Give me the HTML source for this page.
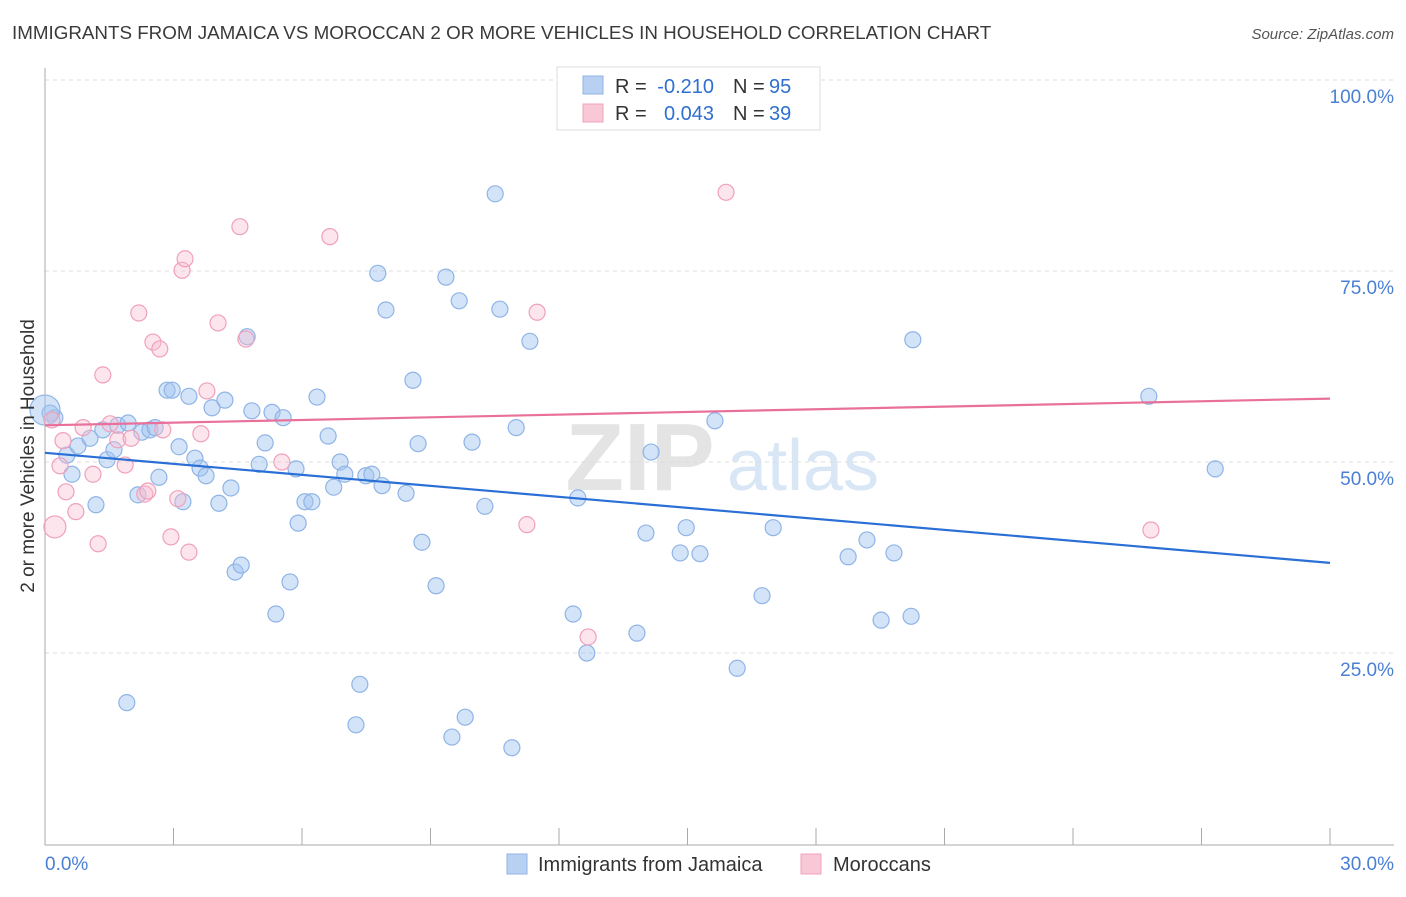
<!DOCTYPE html>
<html><head><meta charset="utf-8">
<style>
body{margin:0;background:#fff;font-family:"Liberation Sans",sans-serif;}
svg text{font-family:"Liberation Sans",sans-serif;}
</style></head>
<body>
<svg width="1406" height="892" xmlns="http://www.w3.org/2000/svg">
<text x="12" y="39" font-size="18.8" fill="#3a3a3a">IMMIGRANTS FROM JAMAICA VS MOROCCAN 2 OR MORE VEHICLES IN HOUSEHOLD CORRELATION CHART</text>
<text x="1394" y="39" font-size="15" font-style="italic" fill="#555" text-anchor="end">Source: ZipAtlas.com</text>
<text x="640" y="490" font-size="96" font-family="Liberation Serif" fill="#e4e4e4" text-anchor="middle" font-weight="bold">ZIP</text>
<text x="803" y="490" font-size="72" fill="#d8e6f5" text-anchor="middle">atlas</text>
<g id="grid"></g>
<g id="axes"></g>
<g id="pts"></g>
<g id="trends"></g>
<text transform="translate(34,456) rotate(-90)" font-size="19" fill="#333" text-anchor="middle">2 or more Vehicles in Household</text>
<text x="45" y="870" font-size="19" fill="#4a7fd4">0.0%</text>
<text x="1394" y="870" font-size="19" fill="#4a7fd4" text-anchor="end">30.0%</text>
<g>
<rect x="557" y="67" width="263" height="63" fill="#fff" stroke="#ddd"/>
<rect x="583" y="76" width="20" height="18" fill="#b8d1f2" stroke="#8fb4e6"/>
<rect x="583" y="104" width="20" height="18" fill="#f9c8d7" stroke="#f0a0bc"/>
<text x="615" y="93" font-size="20" fill="#333">R =</text>
<text x="714" y="93" font-size="20" fill="#2f6fd0" text-anchor="end">-0.210</text>
<text x="733" y="93" font-size="20" fill="#333">N =</text>
<text x="769" y="93" font-size="20" fill="#2f6fd0">95</text>
<text x="615" y="120" font-size="20" fill="#333">R =</text>
<text x="714" y="120" font-size="20" fill="#2f6fd0" text-anchor="end">0.043</text>
<text x="733" y="120" font-size="20" fill="#333">N =</text>
<text x="769" y="120" font-size="20" fill="#2f6fd0">39</text>
</g>
<g>
<rect x="507" y="854" width="20" height="20" fill="#b8d1f2" stroke="#8fb4e6"/>
<text x="538" y="871" font-size="20" fill="#333">Immigrants from Jamaica</text>
<rect x="801" y="854" width="20" height="20" fill="#f9c8d7" stroke="#f0a0bc"/>
<text x="833" y="871" font-size="20" fill="#333">Moroccans</text>
</g>
</svg>
<script>
const yTicks=[25,50,75,100];
const xTicks=[0,3,6,9,12,15,18,21,24,27,30];
const jamX=[0.23,0.12,0,0.63,0.51,0.77,1.05,1.19,1.35,1.45,1.61,1.70,1.94,1.91,2.17,2.26,2.45,2.57,2.66,2.85,2.97,3.13,3.22,3.36,3.50,3.62,3.76,3.90,4.06,4.20,4.34,4.44,4.58,4.72,4.83,5.00,5.14,5.30,5.39,5.56,5.72,5.86,5.91,6.07,6.23,6.35,6.61,6.74,6.89,7.00,7.26,7.35,7.49,7.63,7.77,7.87,7.96,8.43,8.59,8.71,8.80,9.13,9.36,9.50,9.67,9.81,9.97,10.27,10.51,10.62,10.90,11.00,11.32,12.33,12.44,12.65,13.82,14.03,14.15,14.83,14.97,15.29,15.64,16.16,16.74,17.00,18.75,19.19,19.52,19.82,20.22,20.26,25.77,27.32];
const jamY=[55.8,56.4,56.8,48.4,50.9,52.1,53.1,44.4,54.2,50.3,51.6,54.8,55.1,18.5,45.7,53.9,54.2,54.5,48.0,59.4,59.4,52.0,44.8,58.6,50.5,49.2,48.2,57.1,44.6,58.1,46.6,35.6,36.5,66.4,56.7,49.7,52.5,56.5,30.1,55.8,34.3,49.1,42.0,44.8,44.8,58.5,53.4,46.7,50.0,48.4,15.6,20.9,48.2,48.4,74.7,46.9,69.9,45.9,60.7,52.4,39.5,33.8,74.2,14.0,71.1,16.6,52.6,44.2,85.1,70.0,12.6,54.5,65.8,30.1,45.3,25.0,27.6,40.7,51.3,38.1,41.4,38.0,55.4,23.0,32.5,41.4,37.6,39.8,29.3,38.1,29.8,66.0,58.6,49.1];
const jamBig=[2];
const morX=[0.23,0.16,0.35,0.42,0.49,0.72,0.89,1.12,1.24,1.35,1.52,1.70,1.87,2.01,2.19,2.33,2.40,2.52,2.68,2.75,2.94,3.10,3.20,3.27,3.36,3.64,3.78,4.04,4.55,4.69,5.53,6.65,11.25,11.49,12.68,15.90,25.82];
const morY=[41.5,55.5,49.5,52.8,46.1,43.5,54.5,48.4,39.3,61.4,55.0,52.9,49.6,53.1,69.5,45.8,46.2,65.7,64.8,54.2,40.2,45.2,75.1,76.6,38.2,53.7,59.3,68.2,80.8,66.1,50.0,79.5,41.8,69.6,27.1,85.3,41.1];
const morBig=[0];
const jamTrend=[51.2,36.8];
const morTrend=[54.8,58.3];
const NS="http://www.w3.org/2000/svg";
const sx=v=>45+v/30*1285;
const sy=v=>844-v/100*764;
function mk(tag,parent,attrs){const e=document.createElementNS(NS,tag);for(const k in attrs)e.setAttribute(k,attrs[k]);parent.appendChild(e);return e;}
const grid=document.getElementById('grid'),axes=document.getElementById('axes'),pts=document.getElementById('pts'),tr=document.getElementById('trends');
yTicks.forEach(t=>{
 const l=mk('line',grid,{x1:45,x2:1394,y1:sy(t),y2:sy(t),stroke:'#ddd','stroke-dasharray':'4,4'});
 
 
 const tx=mk('text',grid,{x:1394,y:sy(t)+23,'font-size':19,fill:'#4a7fd4','text-anchor':'end'});
 tx.textContent=t.toFixed(1)+'%';
 
 
});
const ya=mk('line',axes,{x1:45,x2:45,y1:68,y2:845,stroke:'#aaa'});


const xa=mk('line',axes,{x1:45,x2:1394,y1:845,y2:845,stroke:'#aaa'});


xTicks.forEach(t=>{
 const l=mk('line',axes,{x1:sx(t),x2:sx(t),y1:828,y2:845,stroke:'#aaa'});
 
 
});
jamX.forEach((x,i)=>{
 const c=mk('circle',pts,{cx:sx(x),cy:sy(jamY[i]),r:jamBig.includes(i)?15:8,fill:'rgba(160,196,240,0.45)',stroke:'#8fb4e6','stroke-width':1.2});
 
 
});
morX.forEach((x,i)=>{
 const c=mk('circle',pts,{cx:sx(x),cy:sy(morY[i]),r:morBig.includes(i)?11:8,fill:'rgba(248,190,210,0.4)',stroke:'#f0a0bc','stroke-width':1.2});
 
 
});
const bl=mk('line',tr,{x1:sx(0),x2:sx(30),y1:sy(jamTrend[0]),y2:sy(jamTrend[1]),stroke:'#2a6fd6','stroke-width':2.2});


const pl=mk('line',tr,{x1:sx(0),x2:sx(30),y1:sy(morTrend[0]),y2:sy(morTrend[1]),stroke:'#e8709a','stroke-width':2.2});


</script>
</body></html>
